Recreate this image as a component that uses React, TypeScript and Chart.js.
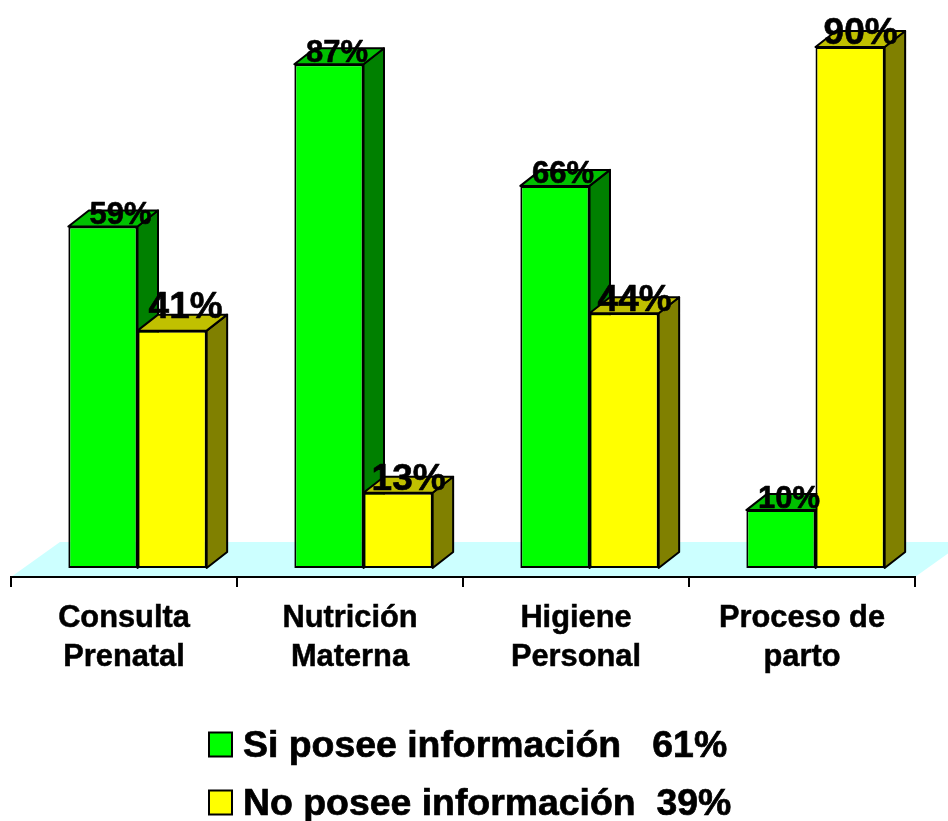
import { useEffect, useRef } from "react";
import { Chart, registerables } from "chart.js";

Chart.register(...registerables);

const categories = [
  ["Consulta", "Prenatal"],
  ["Nutrición", "Materna"],
  ["Higiene", "Personal"],
  ["Proceso de", "parto"],
];
const siPosee = [59, 87, 66, 10];
const noPosee = [41, 13, 44, 90];
const seriesNames = ["Si posee información   61%", "No posee información  39%"];

const FONT = '"Liberation Sans", Arial, sans-serif';

// Offset of the bars from the axis plane, and the extrusion of each column.
const PLANE = { dx: 13.5, dy: -9 };
const DEPTH = { dx: 20.5, dy: -16 };
const FLOOR = { dx: 49, dy: -35 };

const FACES = [
  { front: "#00FF00", side: "#008000", top: "#00C000", labelSize: 31, labelDx: 8 },
  { front: "#FFFF00", side: "#808000", top: "#C0C000", labelSize: 37, labelDx: 10.5 },
];
// A few value labels sit away from the default spot: [dataset, index] -> nudge.
const LABEL_NUDGE: Record<string, { x: number; y: number }> = {
  "0:0": { x: 9.5, y: 0 },
  "1:0": { x: 3, y: -10 },
};

function polygon(ctx: CanvasRenderingContext2D, pts: number[][], fill: string, stroke = true) {
  ctx.beginPath();
  pts.forEach(([x, y], i) => (i ? ctx.lineTo(x, y) : ctx.moveTo(x, y)));
  ctx.closePath();
  ctx.fillStyle = fill;
  ctx.fill();
  if (stroke) {
    ctx.strokeStyle = "#000";
    ctx.lineWidth = 2;
    ctx.stroke();
  }
}

const floorPlugin = {
  id: "floor",
  beforeDraw(chart: any) {
    const { ctx, chartArea: a } = chart;
    polygon(
      ctx,
      [
        [a.left, a.bottom],
        [a.right, a.bottom],
        [a.right + FLOOR.dx, a.bottom + FLOOR.dy],
        [a.left + FLOOR.dx, a.bottom + FLOOR.dy],
      ],
      "#CCFFFF",
      false,
    );
  },
};

const columnPlugin = {
  id: "columns",
  beforeDatasetsDraw(chart: any) {
    const { ctx } = chart;
    ctx.save();
    ctx.translate(PLANE.dx, PLANE.dy);
    ctx.lineJoin = "round";
    chart.data.datasets.forEach((_: any, d: number) => {
      chart.getDatasetMeta(d).data.forEach((bar: any) => {
        const l = bar.x - bar.width / 2;
        const r = bar.x + bar.width / 2;
        const t = bar.y;
        const b = bar.base;
        polygon(
          ctx,
          [
            [r, t],
            [r + DEPTH.dx, t + DEPTH.dy],
            [r + DEPTH.dx, b + DEPTH.dy],
            [r, b],
          ],
          FACES[d].side,
        );
        polygon(
          ctx,
          [
            [l, t],
            [l + DEPTH.dx, t + DEPTH.dy],
            [r + DEPTH.dx, t + DEPTH.dy],
            [r, t],
          ],
          FACES[d].top,
        );
      });
    });
  },
  afterDatasetsDraw(chart: any) {
    const { ctx } = chart;
    ctx.fillStyle = "#000";
    ctx.strokeStyle = "#000";
    ctx.lineWidth = 0.6;
    ctx.textAlign = "center";
    ctx.textBaseline = "alphabetic";
    chart.data.datasets.forEach((ds: any, d: number) => {
      ctx.font = `bold ${FACES[d].labelSize}px ${FONT}`;
      chart.getDatasetMeta(d).data.forEach((bar: any, i: number) => {
        const nudge = LABEL_NUDGE[`${d}:${i}`] ?? { x: 0, y: 0 };
        const x = bar.x + FACES[d].labelDx + nudge.x;
        const y = bar.y - 2.5 + nudge.y;
        ctx.fillText(`${ds.data[i]}%`, x, y);
        ctx.strokeText(`${ds.data[i]}%`, x, y);
      });
    });
    ctx.restore();
  },
};

// Two stacked rows centred under the plot, which the built-in legend cannot lay out.
const stackedLegendPlugin = {
  id: "stackedLegend",
  afterDraw(chart: any) {
    const { ctx } = chart;
    ctx.save();
    ctx.font = `bold 37.4px ${FONT}`;
    ctx.textAlign = "left";
    ctx.textBaseline = "alphabetic";
    chart.data.datasets.forEach((ds: any, d: number) => {
      const y = 732.5 + d * 58;
      ctx.fillStyle = ds.backgroundColor;
      ctx.fillRect(209, y, 23, 24);
      ctx.strokeStyle = "#000";
      ctx.lineWidth = 2;
      ctx.strokeRect(209, y, 23, 24);
      ctx.fillStyle = "#000";
      ctx.fillText(ds.label, 243, y + 24.5);
      ctx.lineWidth = 0.7;
      ctx.strokeText(ds.label, 243, y + 24.5);
    });
    ctx.restore();
  },
};

export default function App() {
  const canvasRef = useRef<HTMLCanvasElement>(null);

  useEffect(() => {
    const chart = new Chart(canvasRef.current!, {
      type: "bar",
      data: {
        labels: categories,
        datasets: [
          {
            label: seriesNames[0],
            data: siPosee,
            backgroundColor: FACES[0].front,
            borderColor: "#000",
            borderWidth: 2,
            borderSkipped: false,
            clip: false,
          },
          {
            label: seriesNames[1],
            data: noPosee,
            backgroundColor: FACES[1].front,
            borderColor: "#000",
            borderWidth: 2,
            borderSkipped: false,
            clip: false,
          },
        ],
      },
      options: {
        animation: false,
        responsive: false,
        layout: { padding: { left: 11, right: 33, top: 27, bottom: 0 } },
        datasets: { bar: { categoryPercentage: 0.612, barPercentage: 1 } },
        plugins: { legend: { display: false }, tooltip: { enabled: false } },
        scales: {
          x: {
            offset: true,
            afterFit: (scale: any) => {
              scale.height = 244;
            },
            grid: {
              offset: true,
              drawOnChartArea: false,
              drawTicks: true,
              tickLength: 10,
              color: "#000",
              lineWidth: 2,
            },
            border: { display: true, color: "#000", width: 2 },
            ticks: {
              autoSkip: false,
              maxRotation: 0,
              padding: 12,
              color: "#000",
              textStrokeColor: "#000",
              textStrokeWidth: 0.5,
              font: { family: FONT, size: 30.8, weight: "bold", lineHeight: 1.265 },
            },
          },
          y: { display: false, min: 0, max: 95 },
        },
      },
      plugins: [floorPlugin, columnPlugin, stackedLegendPlugin],
    } as any);
    return () => chart.destroy();
  }, []);

  return (
    <div style={{ position: "absolute", left: 0, top: 0, width: 948, height: 821 }}>
      <canvas ref={canvasRef} width={948} height={821} style={{ display: "block" }} />
    </div>
  );
}
